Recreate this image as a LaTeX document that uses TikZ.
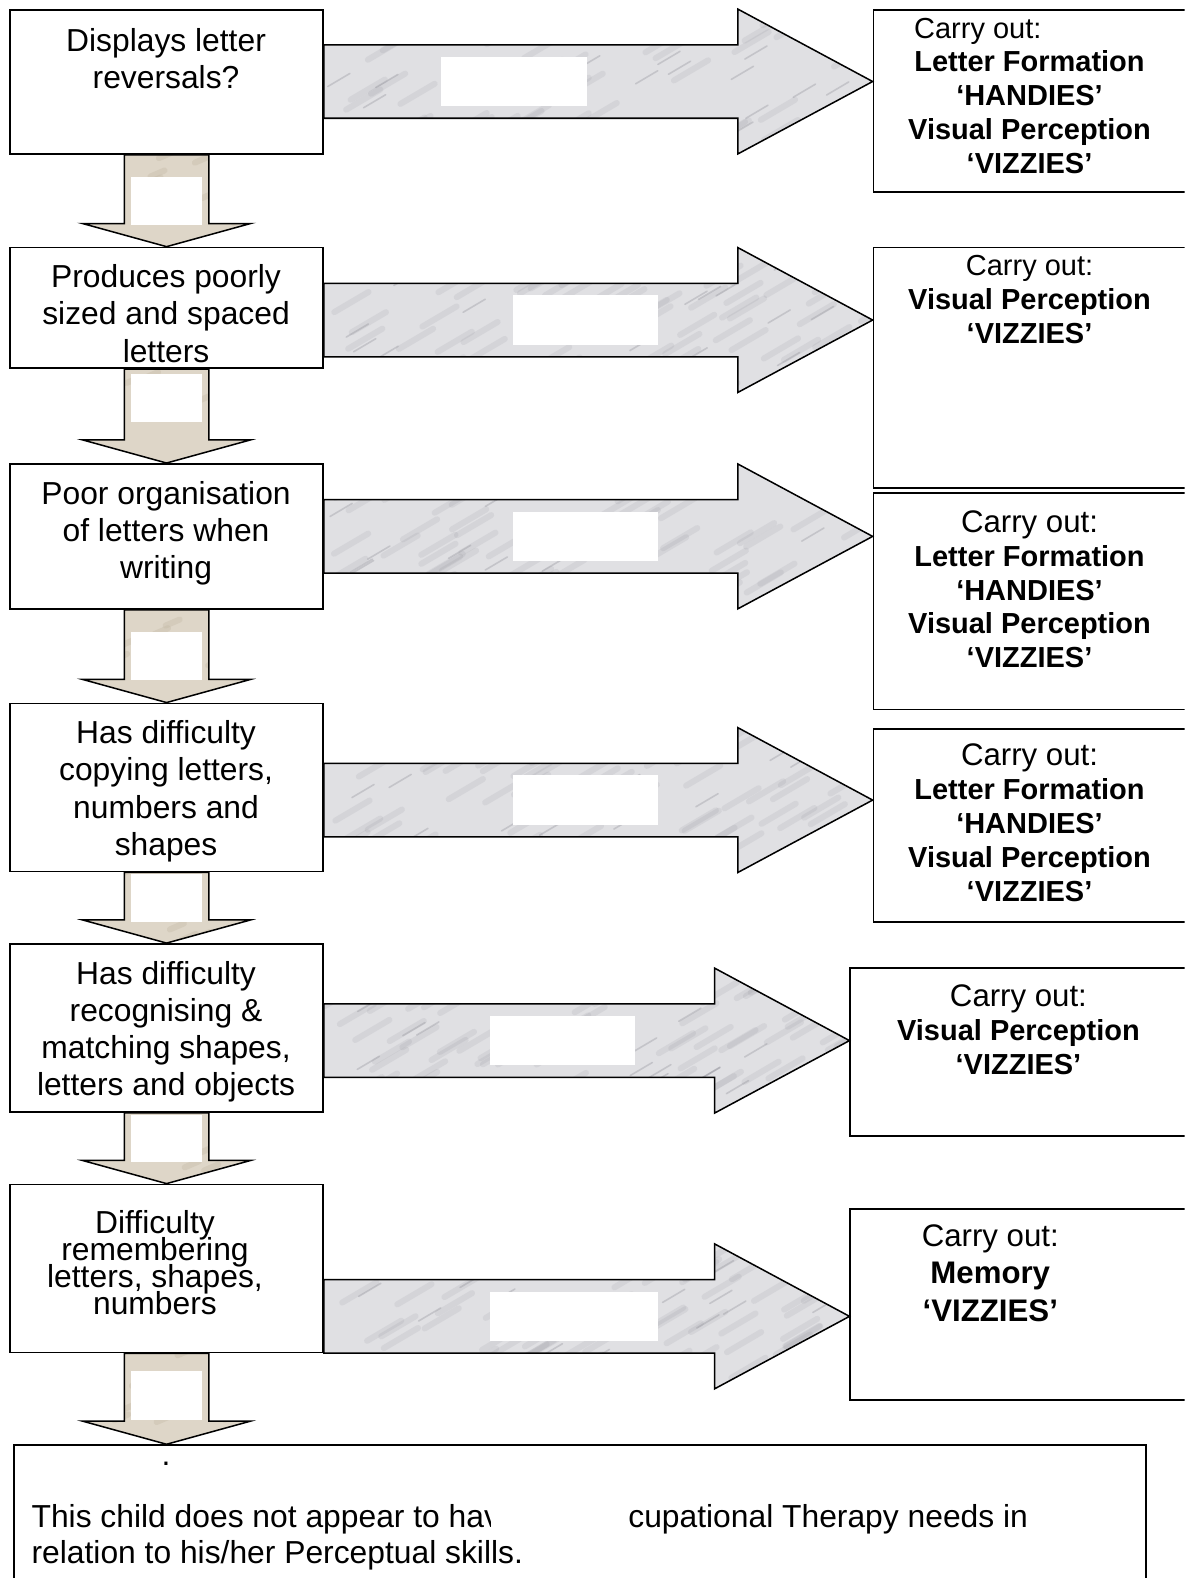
\documentclass[tikz,border=0pt]{standalone}
\usepackage{fontspec}
\setmainfont{Liberation Sans}
\usetikzlibrary{calc}
\definecolor{marblebg}{HTML}{E0E0E3}
\definecolor{marblevein}{HTML}{85858E}
\definecolor{sandbg}{HTML}{DED6C8}
\definecolor{sandvein}{HTML}{C2B7A4}

\newcommand{\qfont}{\fontsize{15.8}{18.5}\selectfont}
\newcommand{\tightfont}{\fontsize{15.8}{13.5}\selectfont\lineskiplimit=-20pt\relax}
\newcommand{\rfont}{\fontsize{14.4}{16.85}\selectfont}
\newcommand{\cfont}{\fontsize{15.5}{17}\selectfont}
% block arrow outlines, built from the coordinates (s),(t) and (u),(v)
\newcommand{\rightblock}{($(s)+(0,-36.5)$) -| ($(t)+(-134,-72)$) -- (t) -- ($(t)+(-134,72)$) |- ($(s)+(0,36.5)$) -- cycle}
\newcommand{\downblock}{($(u)+(-42,0)$) -- ($(v)+(-42,-23)$) -- ($(v)+(-83.5,-23)$) -- (v) -- ($(v)+(83.5,-23)$) -- ($(v)+(42,-23)$) -- ($(u)+(42,0)$) -- cycle}

\begin{document}
\begin{tikzpicture}[x=0.5pt,y=-0.5pt,
  qbox/.style={draw,line width=0.9pt,fill=white,inner sep=0pt,minimum width=155.5pt},
  rbox/.style={draw,line width=0.9pt,fill=white,inner sep=0pt,minimum width=161pt},
  qtext/.style={anchor=north,align=center,inner sep=0pt,font=\qfont},
  rtext/.style={anchor=north,align=center,inner sep=0pt,font=\rfont},
  blockline/.style={draw=black,line width=0.75pt,line join=miter},
  vein/.style={marblevein,line width=3pt,opacity=0.13,line cap=round},
  thinvein/.style={marblevein,line width=0.8pt,opacity=0.3,line cap=round},
  grain/.style={sandvein,line width=3pt,opacity=0.35,line cap=round}]
\useasboundingbox (0,0) rectangle (1177,1568);
\clip (0,0) rectangle (1177,1568);

% questions down the left
\node[qbox,minimum height=71.5pt] (q1) at (165.5,81.5) {};
\node[qbox,minimum height=60pt] (q2) at (165.5,306) {};
\node[qbox,minimum height=72pt] (q3) at (165.5,533) {};
\node[qbox,minimum height=83.5pt] (q4) at (165.5,782.5) {};
\node[qbox,minimum height=83.5pt] (q5) at (165.5,1021.5) {};
\node[qbox,minimum height=83.5pt] (q6) at (165.5,1260.5) {};
\node[qbox,minimum width=562.5pt,minimum height=82pt] (note) at (576.5,1518) {};

% what to carry out, on the right
\node[rbox,minimum height=90.5pt] (r1) at (1029,100.5) {};
\node[rbox,minimum height=119.5pt] (r2) at (1029,365.5) {};
\node[rbox,minimum height=107.5pt] (r3) at (1029,597.5) {};
\node[rbox,minimum height=96pt] (r4) at (1029,820) {};
\node[rbox,minimum width=172.5pt,minimum height=83.5pt] (r5) at (1017.5,1045.5) {};
\node[rbox,minimum width=172.5pt,minimum height=95pt] (r6) at (1017.5,1296) {};

\node[qtext] (q1t) at (165,27.6) {Displays letter\\reversals?};
\node[qtext] (q2t) at (165,262.6) {Produces poorly\\sized and spaced\\letters};
\node[qtext] (q3t) at (165,477.6) {Poor organisation\\of letters when\\writing};
\node[qtext] (q4t) at (165,715.6) {Has difficulty\\copying letters,\\numbers and\\shapes};
\node[qtext] (q5t) at (165,954.6) {Has difficulty\\recognising \&\\matching shapes,\\letters and objects};
\node[qtext,font=\tightfont] (q6t) at (154,1202)
  {Difficulty\\remembering\\letters, shapes,\\numbers};

\node[rtext,anchor=north west] (r1c) at (908,17.6) {Carry out:};
\node[rtext,font=\rfont\bfseries] (r1t) at (1023,49.6)
  {Letter Formation\\‘HANDIES’\\Visual Perception\\‘VIZZIES’};
\node[rtext] (r2t) at (1023,253.6)
  {Carry out:\\\textbf{Visual Perception}\\\textbf{‘VIZZIES’}};
\node[rtext] (r3t) at (1023,506.8)
  {{\cfont Carry out:}\\\textbf{Letter Formation}\\\textbf{‘HANDIES’}\\\textbf{Visual Perception}\\\textbf{‘VIZZIES’}};
\node[rtext] (r4t) at (1023,738.8)
  {{\cfont Carry out:}\\\textbf{Letter Formation}\\\textbf{‘HANDIES’}\\\textbf{Visual Perception}\\\textbf{‘VIZZIES’}};
\node[rtext] (r5t) at (1012,977.8)
  {{\cfont Carry out:}\\\textbf{Visual Perception}\\\textbf{‘VIZZIES’}};
\node[rtext,font=\fontsize{15.5}{18.5}\selectfont] (r6t) at (984,1216.8)
  {Carry out:\\\textbf{Memory}\\\textbf{‘VIZZIES’}};

\node[qtext,anchor=center] (dot) at (165,1455) {.};
\node[qtext,anchor=north west,align=left,font=\fontsize{15.8}{18}\selectfont] (note1) at (31,1494.6)
  {This child does not appear to hav\\relation to his/her Perceptual skills.};
\node[qtext,anchor=north west] (note2) at (624,1494.6) {cupational Therapy needs in};
\fill[white] (488,1488) rectangle (520,1522);

% marble arrows across
\pgfmathsetseed{12}
\foreach \i/\yc/\wa/\wb in {1/81/438/583,2/318/510/654,3/533/510/654,4/795/510/654,5/1034/487/631,6/1308/487/654}{
  \coordinate (s) at (q\i.east |- 0,\yc);
  \coordinate (t) at (r\i.west |- 0,\yc);
  \begin{scope}
    \clip \rightblock;
    \fill[marblebg] ($(s)+(0,-80)$) rectangle ($(t)+(0,80)$);
    \foreach \k in {1,...,90}
      \draw[vein] ($(s)+({rnd*570},{rnd*170-85})$) -- ++(34,-20);
    \foreach \k in {1,...,30}
      \draw[thinvein] ($(s)+({rnd*570},{rnd*170-85})$) -- ++(22,-13);
  \end{scope}
  \draw[blockline] \rightblock;
  \fill[white] (\wa,\yc-24.5) rectangle (\wb,\yc+24.5);
}

% sand arrows down
\foreach \a/\b/\wt/\wb in {q1/q2/176/224,q2/q3/372/419,q3/q4/628/676,q4/q5/868/916,q5/q6/1108/1155,q6/note/1362/1411}{
  \coordinate (u) at (\a.south);
  \coordinate (v) at (\a.south |- \b.north);
  \begin{scope}
    \clip \downblock;
    \fill[sandbg] ($(u)+(-90,0)$) rectangle ($(v)+(90,0)$);
    \foreach \k in {1,...,10}
      \draw[grain] ($(u)+({rnd*160-80},{rnd*70})$) -- ++(14,-6);
  \end{scope}
  \draw[blockline] \downblock;
  \fill[white] ($(u |- 0,\wt)+(-35.5,0)$) rectangle ($(u |- 0,\wb)+(35.5,0)$);
}
\end{tikzpicture}
\end{document}
